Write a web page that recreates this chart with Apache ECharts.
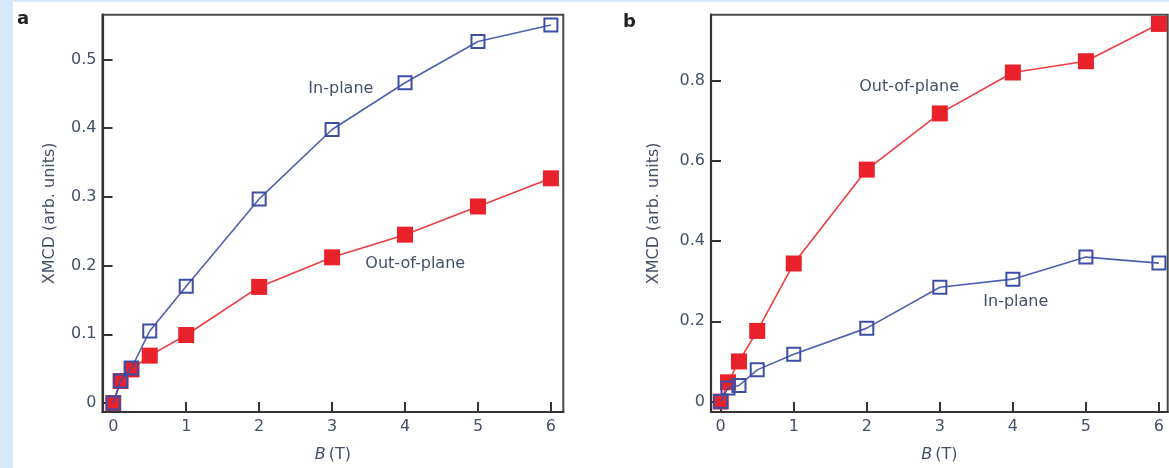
<!DOCTYPE html>
<html>
<head>
<meta charset="utf-8">
<script src="https://cdn.jsdelivr.net/npm/echarts@6/dist/echarts.min.js"></script>
<style>
  html, body { margin: 0; padding: 0; background: #d6e9fb; }
  #c { width: 1169px; height: 468px; }
</style>
</head>
<body>
<div id="c"></div>
<script>
// Applied field B (T)
const fieldB = [0, 0.1, 0.25, 0.5, 1, 2, 3, 4, 5, 6];

// Panel a: XMCD (arb. units)
const aInPlane    = [0, 0.032, 0.051, 0.105, 0.170, 0.297, 0.398, 0.466, 0.526, 0.550];
const aOutOfPlane = [0, 0.032, 0.049, 0.069, 0.099, 0.169, 0.212, 0.245, 0.286, 0.327];

// Panel b: XMCD (arb. units)
const bOutOfPlane = [0, 0.048, 0.100, 0.176, 0.344, 0.578, 0.718, 0.820, 0.848, 0.941];
const bInPlane    = [0, 0.034, 0.040, 0.079, 0.118, 0.183, 0.285, 0.305, 0.360, 0.345];

// Tick labels
const xTicks  = [0, 1, 2, 3, 4, 5, 6];
const aYTicks = [0, 0.1, 0.2, 0.3, 0.4, 0.5];
const bYTicks = [0, 0.2, 0.4, 0.6, 0.8];

const TEXT = '#44506a';
const FONT = 'DejaVu Sans';
const RED = '#e8212a';
const RED_LINE = '#ee3d42';
const BLUE = '#3b4fa6';

const pairs = ys => fieldB.map((x, i) => [x, ys[i]]);

function xAxis(gridIndex, min, max) {
  return {
    type: 'value', gridIndex, min, max,
    name: '{i|B}(T)', nameLocation: 'middle', nameGap: 35,
    nameTextStyle: {
      color: TEXT, fontFamily: FONT, fontSize: 16,
      rich: { i: { fontStyle: 'italic', color: TEXT, fontFamily: FONT, fontSize: 16, padding: [0, 3, 0, 0] } }
    },
    axisLine: { show: true, onZero: false, lineStyle: { color: '#333', width: 2.2 } },
    axisTick: { show: true, inside: true, length: 10, customValues: xTicks, lineStyle: { color: '#333', width: 2 } },
    axisLabel: { show: true, customValues: xTicks, margin: 7, color: TEXT, fontFamily: FONT, fontSize: 16 },
    splitLine: { show: false }
  };
}

function yAxis(gridIndex, min, max, ticks, gap) {
  return {
    type: 'value', gridIndex, min, max,
    name: 'XMCD (arb. units)', nameLocation: 'middle', nameGap: gap, nameRotate: 90,
    nameTextStyle: { color: TEXT, fontFamily: FONT, fontSize: 16 },
    axisLine: { show: true, onZero: false, lineStyle: { color: '#333', width: 2.2 } },
    axisTick: { show: true, inside: true, length: 10, customValues: ticks, lineStyle: { color: '#333', width: 2 } },
    axisLabel: { show: true, customValues: ticks, margin: 6, color: TEXT, fontFamily: FONT, fontSize: 16 },
    splitLine: { show: false }
  };
}

function note(text, coord) {
  return {
    symbol: 'rect', symbolSize: 1,
    itemStyle: { color: 'rgba(0,0,0,0)' },
    label: { show: true, position: 'inside', formatter: text, color: TEXT, fontFamily: FONT, fontSize: 16 },
    data: [{ coord }]
  };
}

function filled(idx, ys, label, coord) {
  return {
    type: 'line', xAxisIndex: idx, yAxisIndex: idx, data: pairs(ys),
    symbol: 'rect', symbolSize: 16,
    itemStyle: { color: RED },
    lineStyle: { color: RED_LINE, width: 1.6 },
    z: 3,
    markPoint: note(label, coord)
  };
}

function open(idx, ys, label, coord) {
  return {
    type: 'line', xAxisIndex: idx, yAxisIndex: idx, data: pairs(ys),
    symbol: 'rect', symbolSize: 13, showAllSymbol: true,
    itemStyle: { color: 'rgba(255,255,255,0)', borderColor: BLUE, borderWidth: 2 },
    lineStyle: { color: BLUE, width: 1.6, opacity: 0.9 },
    z: 4,
    markPoint: note(label, coord)
  };
}

const chart = echarts.init(document.getElementById('c'), null, { renderer: 'canvas' });

chart.setOption({
  animation: false,
  backgroundColor: '#d6e9fb',
  graphic: [
    { type: 'rect', left: 13, top: 2, shape: { width: 1156, height: 466 }, style: { fill: '#ffffff' }, z: -10 },
    { type: 'text', left: 17, top: 10, style: { text: 'a', fill: '#222', font: 'bold 18px "DejaVu Sans"' } },
    { type: 'text', left: 623, top: 13, style: { text: 'b', fill: '#222', font: 'bold 18px "DejaVu Sans"' } }
  ],
  grid: [
    { left: 102.5, top: 14.7, width: 460.8, height: 401.3, show: true, borderWidth: 2, borderColor: '#4a4a4a', backgroundColor: 'transparent' },
    { left: 711, top: 14.7, width: 456.7, height: 401.3, show: true, borderWidth: 2, borderColor: '#4a4a4a', backgroundColor: 'transparent' }
  ],
  xAxis: [xAxis(0, -0.148, 6.17), xAxis(1, -0.133, 6.12)],
  yAxis: [yAxis(0, -0.013, 0.565, aYTicks, 45), yAxis(1, -0.026, 0.964, bYTicks, 49)],
  series: [
    filled(0, aOutOfPlane, 'Out-of-plane', [4.14, 0.202]),
    open(0, aInPlane, 'In-plane', [3.12, 0.457]),
    filled(1, bOutOfPlane, 'Out-of-plane', [2.58, 0.783]),
    open(1, bInPlane, 'In-plane', [4.04, 0.248])
  ]
});
</script>
</body>
</html>
